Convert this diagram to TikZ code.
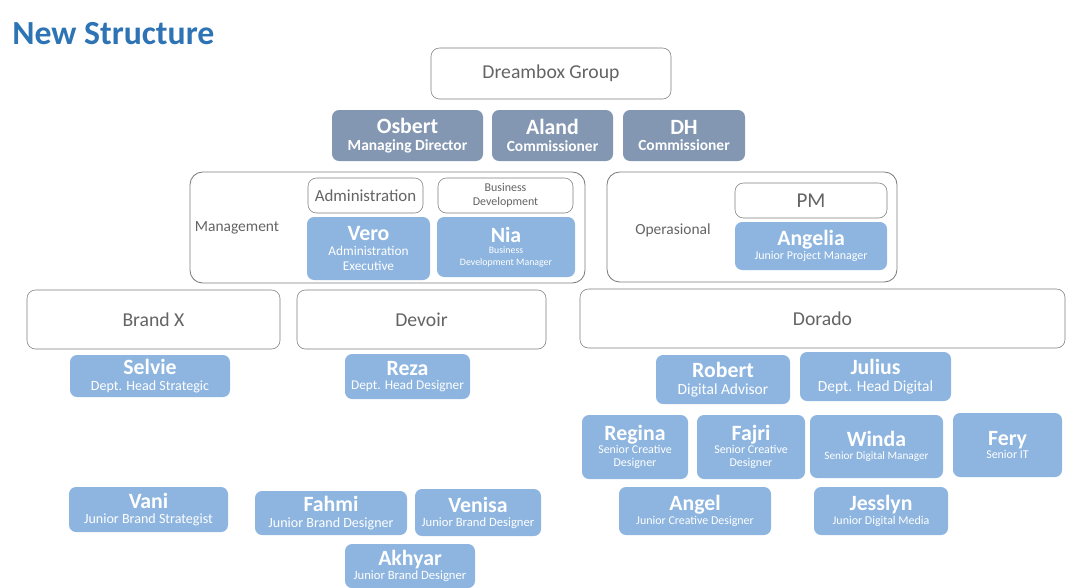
\documentclass[tikz,border=0pt]{standalone}
\usepackage{fontspec}
\setmainfont{Carlito}
\usetikzlibrary{positioning}
\definecolor{slatebox}{RGB}{131,151,178}
\definecolor{liteblue}{RGB}{141,181,223}
\definecolor{edgegray}{RGB}{125,125,125}
\definecolor{textgray}{RGB}{100,100,100}
\definecolor{titleblue}{RGB}{46,116,181}
\newcommand{\pname}[1]{{\fontsize{15.5}{16.5}\selectfont\bfseries #1}}

\begin{document}
\begin{tikzpicture}[x=0.025cm,y=-0.025cm,
    unitbox/.style={draw=edgegray,fill=white,rounded corners=6pt,
      text=textgray,font=\fontsize{14}{16}\selectfont,inner sep=0pt,align=center},
    groupbox/.style={draw=edgegray,rounded corners=9pt,line width=0.6pt},
    boardbox/.style={fill=slatebox,text=white,rounded corners=5pt,
      font=\fontsize{11}{12}\selectfont\bfseries,inner sep=0pt,align=center},
    staffbox/.style={fill=liteblue,text=white,rounded corners=5pt,
      font=\fontsize{10}{11}\selectfont,inner sep=0pt,align=center},
    sz/.style 2 args={minimum width=#1*0.025cm,minimum height=#2*0.025cm}]

  \useasboundingbox (0,0) rectangle (1070,587);

  % title
  \node[anchor=west,text=titleblue,font=\fontsize{24}{26}\selectfont\bfseries,inner sep=0pt]
    (title) at (12,34) {New Structure};

  % group and board
  \node[unitbox,sz={240}{51}] (dreambox) at (551,73.5) {Dreambox Group};

  \node[boardbox,sz={151}{51}] (osbert) at (407.5,135.5) {\pname{Osbert}\\Managing Director};
  \node[boardbox,sz={121}{51}] (aland) at (552.5,135.5) {\pname{Aland}\\Commissioner};
  \node[boardbox,sz={122}{51}] (dh) at (684,135.5) {\pname{DH}\\Commissioner};

  % management
  \draw[groupbox] (190,172) rectangle (585,283);
  \node[text=textgray,font=\fontsize{11}{12}\selectfont] (mgmt) at (237,228) {Management};
  \node[unitbox,sz={115}{35},font=\fontsize{12}{13}\selectfont] (admin) at (365.5,195.5) {Administration};
  \node[unitbox,sz={135}{35},font=\fontsize{8.5}{10}\selectfont] (bizdev) at (505.5,195.5) {Business\\Development};
  \node[staffbox,sz={123}{63},font=\fontsize{9.5}{10.5}\selectfont] (vero) at (368.5,248.5)
    {\pname{Vero}\\Administration\\Executive};
  \node[staffbox,sz={138}{60},font=\fontsize{7}{8}\selectfont] (nia) at (506,247)
    {\pname{Nia}\\Business\\Development Manager};

  % operasional
  \draw[groupbox] (607,172) rectangle (897,282);
  \node[text=textgray,font=\fontsize{11}{12}\selectfont] (ops) at (673,230) {Operasional};
  \node[unitbox,sz={152}{35},font=\fontsize{15}{16}\selectfont] (pm) at (811,200.5) {PM};
  \node[staffbox,sz={152}{48},font=\fontsize{8.5}{9.5}\selectfont] (angelia) at (811,246)
    {\pname{Angelia}\\Junior Project Manager};

  % brands
  \node[unitbox,sz={253}{59}] (brandx) at (153.5,319.5) {Brand X};
  \node[unitbox,sz={249}{59}] (devoir) at (421.5,319.5) {Devoir};
  \node[unitbox,sz={485}{59}] (dorado) at (822.5,318.5) {Dorado};

  % brand x and devoir staff
  \node[staffbox,sz={160}{42}] (selvie) at (150,376) {\pname{Selvie}\\Dept. Head Strategic};
  \node[staffbox,sz={125}{45},font=\fontsize{9.5}{10.5}\selectfont] (reza) at (407.5,376.5)
    {\pname{Reza}\\Dept. Head Designer};
  \node[staffbox,sz={159}{45}] (vani) at (148.5,509.5) {\pname{Vani}\\Junior Brand Strategist};
  \node[staffbox,sz={152}{44}] (fahmi) at (331,513) {\pname{Fahmi}\\Junior Brand Designer};
  \node[staffbox,sz={126}{47},font=\fontsize{9}{10}\selectfont] (venisa) at (478,512.5)
    {\pname{Venisa}\\Junior Brand Designer};
  \node[staffbox,sz={130}{44},font=\fontsize{9}{10}\selectfont] (akhyar) at (410,566)
    {\pname{Akhyar}\\Junior Brand Designer};

  % dorado staff
  \node[staffbox,sz={134}{49},font=\fontsize{11}{12}\selectfont] (robert) at (723,379.5)
    {\pname{Robert}\\Digital Advisor};
  \node[staffbox,sz={151}{49},font=\fontsize{11}{12}\selectfont] (julius) at (875.5,376.5)
    {\pname{Julius}\\Dept. Head Digital};
  \node[staffbox,sz={106}{64},font=\fontsize{8.5}{9.5}\selectfont] (regina) at (635,447)
    {\pname{Regina}\\Senior Creative\\Designer};
  \node[staffbox,sz={108}{64},font=\fontsize{8.5}{9.5}\selectfont] (fajri) at (751,447)
    {\pname{Fajri}\\Senior Creative\\Designer};
  \node[staffbox,sz={133}{63},font=\fontsize{8}{9}\selectfont] (winda) at (876.5,446.5)
    {\pname{Winda}\\Senior Digital Manager};
  \node[staffbox,sz={109}{64},font=\fontsize{8.5}{9.5}\selectfont] (fery) at (1007.5,445)
    {\pname{Fery}\\Senior IT};
  \node[staffbox,sz={152}{48},font=\fontsize{8.5}{9.5}\selectfont] (angel) at (695,511)
    {\pname{Angel}\\Junior Creative Designer};
  \node[staffbox,sz={134}{48},font=\fontsize{8.5}{9.5}\selectfont] (jesslyn) at (881,511)
    {\pname{Jesslyn}\\Junior Digital Media};
\end{tikzpicture}
\end{document}
